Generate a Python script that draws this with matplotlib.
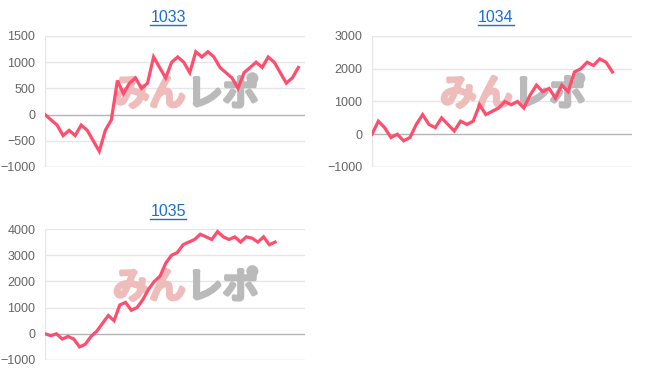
import numpy as np
import matplotlib.pyplot as plt
import matplotlib.patheffects as pe
from matplotlib.lines import Line2D

plt.rcParams['font.family'] = ['Liberation Sans', 'DejaVu Sans']

# Podaci (procenjeni sa slike)
titles = ['1033', '1034', '1035']

vals_1033 = [0, -100, -200, -400, -300, -400, -200, -300, -500, -700, -300, -100,
             650, 400, 600, 700, 500, 600, 1100, 900, 700, 1000, 1100, 1000, 800,
             1200, 1100, 1200, 1100, 900, 800, 700, 500, 800, 900, 1000, 900, 1100,
             1000, 800, 600, 700, 900]

vals_1034 = [0, 400, 200, -100, 0, -200, -100, 300, 600, 300, 200, 500, 300, 100,
             400, 300, 400, 900, 600, 700, 800, 1000, 900, 1000, 800, 1200, 1500,
             1300, 1400, 1100, 1500, 1300, 1900, 2000, 2200, 2100, 2300, 2200, 1900]

vals_1035 = [0, -70, 0, -200, -100, -200, -500, -400, -100, 100, 400, 700, 500,
             1100, 1200, 900, 1000, 1300, 1700, 2000, 2200, 2700, 3000, 3100, 3400,
             3500, 3600, 3800, 3700, 3600, 3900, 3700, 3600, 3700, 3500, 3700, 3650,
             3500, 3700, 3400, 3500]

yticks_1033 = [-1000, -500, 0, 500, 1000, 1500]
yticks_1034 = [-1000, 0, 1000, 2000, 3000]
yticks_1035 = [-1000, 0, 1000, 2000, 3000, 4000]

W, H = 652, 382
fig = plt.figure(figsize=(W / 100, H / 100), dpi=100)

line_color = '#ff4d6d'
grid_color = '#e6e6e6'
wm_font = ['Noto Sans CJK JP', 'DejaVu Sans']


def px_axes(left, top, right, bottom):
    return fig.add_axes([left / W, 1 - bottom / H, (right - left) / W, (bottom - top) / H])


def draw_chart(ax, vals, yticks, xmax):
    x = np.arange(len(vals))
    ax.set_xlim(0, xmax)
    ax.set_ylim(yticks[0], yticks[-1])
    ax.set_yticks(yticks)
    ax.set_xticks([])
    for t in yticks:
        if t == 0:
            ax.axhline(t, color='#b4b4b4', lw=1, zorder=1)
        elif t == yticks[0]:
            ax.axhline(t, color='#d0d0d0', lw=1, zorder=1)
        else:
            ax.axhline(t, color=grid_color, lw=1, zorder=1)
    ax.axvline(0, color=grid_color, lw=1, zorder=1)
    for s in ax.spines.values():
        s.set_visible(False)
    ax.tick_params(axis='y', length=0, pad=7, labelsize=9, labelcolor='#666666')
    ax.patch.set_alpha(0)

    # vodeni žig
    ax.text(0.54, 0.55, 'みん', transform=ax.transAxes, ha='right', va='center',
            fontsize=26, color='#efbcbc', family=wm_font, zorder=2,
            path_effects=[pe.withStroke(linewidth=3, foreground='#efbcbc')])
    ax.text(0.545, 0.55, 'レポ', transform=ax.transAxes, ha='left', va='center',
            fontsize=26, color='#bababa', family=wm_font, zorder=2,
            path_effects=[pe.withStroke(linewidth=3, foreground='#bababa')])

    ax.plot(x, vals, color=line_color, lw=2.3, zorder=3, solid_joinstyle='miter')


ax1 = px_axes(45, 36, 305, 167)
draw_chart(ax1, vals_1033, yticks_1033, 43.1)

ax2 = px_axes(372, 36, 632, 167)
draw_chart(ax2, vals_1034, yticks_1034, 41.1)

ax3 = px_axes(45, 229, 305, 360)
draw_chart(ax3, vals_1035, yticks_1035, 45.2)

# naslovi (link stil, podvučeni)
title_pos = [(168, 17), (496, 17), (168, 211)]
renderer = fig.canvas.get_renderer()
for name, (tx, ty) in zip(titles, title_pos):
    t = fig.text(tx / W, 1 - ty / H, name, ha='center', va='center',
                 fontsize=11.5, color='#1a6fd0')
    bb = t.get_window_extent(renderer=renderer)
    uy = 1 - (ty + 7.5) / H
    fig.add_artist(Line2D([bb.x0 / W, bb.x1 / W], [uy, uy], color='#1a6fd0', lw=1))

plt.savefig('out.png', dpi=100)
